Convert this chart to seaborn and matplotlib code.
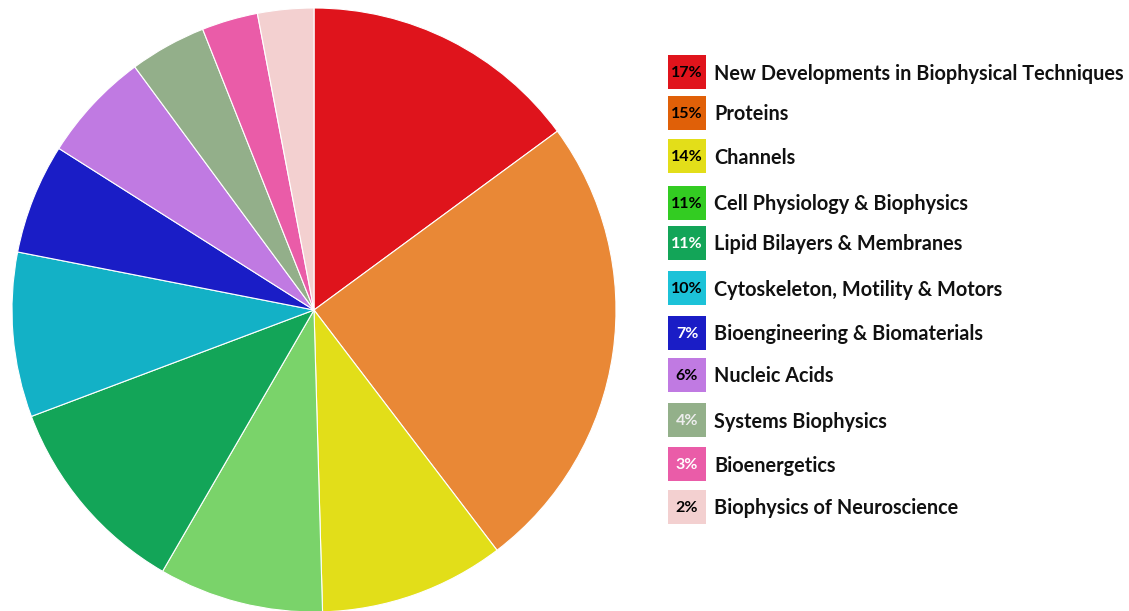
import matplotlib
matplotlib.use("Agg")
import matplotlib.pyplot as plt
import seaborn as sns
from matplotlib.patches import Rectangle

# slice shares as drawn in the pie (clockwise from 12 o'clock)
categories = [
    "New Developments in Biophysical Techniques",
    "Proteins",
    "Channels",
    "Cell Physiology & Biophysics",
    "Lipid Bilayers & Membranes",
    "Cytoskeleton, Motility & Motors",
    "Bioengineering & Biomaterials",
    "Nucleic Acids",
    "Systems Biophysics",
    "Bioenergetics",
    "Biophysics of Neuroscience",
]
slice_values = [14.9, 24.7, 9.9, 8.8, 10.9, 8.8, 5.9, 5.9, 4.1, 3.0, 3.0]
legend_pct = ["17%", "15%", "14%", "11%", "11%", "10%", "7%", "6%", "4%", "3%", "2%"]

pie_colors = ["#df141c", "#e98836", "#e2de19", "#7ad36a", "#13a558", "#13b1c6",
              "#1a1dc6", "#c07ae2", "#93af8a", "#ea5ca8", "#f3d0d0"]
legend_colors = ["#e0141c", "#e06008", "#e3de19", "#33cc22", "#13a558", "#1cc2d8",
                 "#1a1dc6", "#c07ae2", "#93b08a", "#ea5ca8", "#f3d0d0"]
pct_text_colors = ["black", "black", "black", "black", "white", "black",
                   "white", "black", "#eeeeee", "white", "black"]

sns.set_theme(style="white")
plt.rcParams["font.family"] = ["Lato", "DejaVu Sans"]

W, H = 1129, 611
fig = plt.figure(figsize=(W / 100, H / 100), dpi=100)

# pie axes: centre (314, 310) px, radius 302 px
cx, cy, r = 314, 310, 302
ax = fig.add_axes([(cx - r) / W, (H - cy - r) / H, 2 * r / W, 2 * r / H])
ax.pie(slice_values, colors=sns.color_palette(pie_colors), startangle=90,
       counterclock=False, radius=1,
       wedgeprops=dict(edgecolor="white", linewidth=0.8))
ax.set_xlim(-1, 1)
ax.set_ylim(-1, 1)
ax.axis("off")

# legend drawn in pixel space
lax = fig.add_axes([0, 0, 1, 1])
lax.set_xlim(0, W)
lax.set_ylim(H, 0)
lax.axis("off")
row_y = [72, 113, 156, 203, 243, 288, 333, 375, 420, 464, 507]
for y, name, pct, col, tcol in zip(row_y, categories, legend_pct, legend_colors, pct_text_colors):
    lax.add_patch(Rectangle((668, y - 17), 38, 34, color=col, lw=0))
    lax.text(687, y + 1, pct, ha="center", va="center", fontsize=11.5,
             fontweight="bold", color=tcol)
    lax.text(714, y + 1.5, name, ha="left", va="center", fontsize=14.3,
             fontweight="bold", color="#111111")

fig.savefig("out.png", dpi=100, facecolor="white")
